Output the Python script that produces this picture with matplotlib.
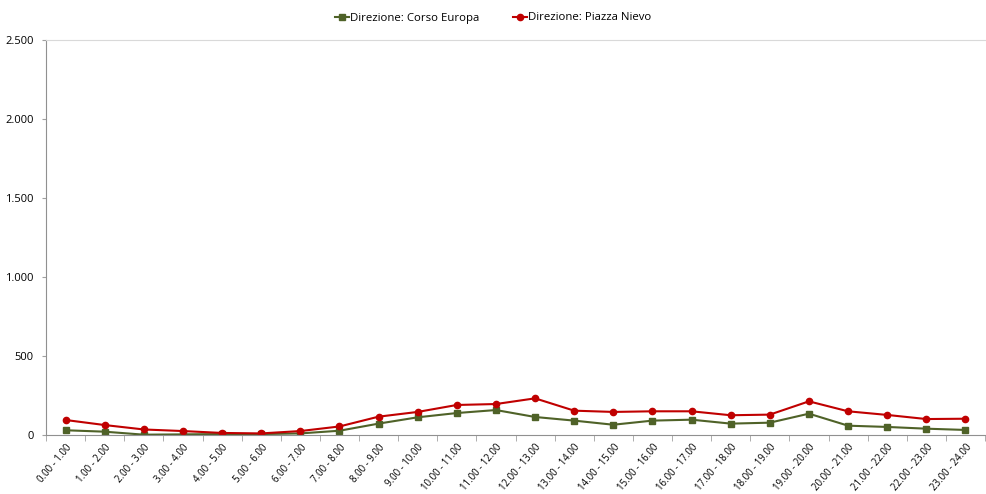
import numpy as np
import matplotlib.pyplot as plt

fasce = [f"{h}.00 - {h + 1}.00" for h in range(24)]
corso_europa = [30, 21, 2, 4, 6, 6, 10, 27, 72, 112, 139, 158, 114, 91, 65, 91,
                97, 72, 78, 135, 59, 51, 40, 32]
piazza_nievo = [95, 63, 35, 25, 13, 10, 25, 54, 116, 146, 190, 196, 232, 154, 146, 150,
                150, 125, 129, 213, 150, 127, 101, 103]

plt.rcParams['font.family'] = ['Open Sans', 'DejaVu Sans']

fig = plt.figure(figsize=(9.86, 4.94), dpi=100)
ax = fig.add_axes([46 / 986, 1 - 435 / 494, 939 / 986, 395 / 494])

x = np.arange(len(fasce))
ax.plot(x, corso_europa, color='#4F6228', lw=1.5, marker='s', ms=4.5,
        label='Direzione: Corso Europa')
ax.plot(x, piazza_nievo, color='#C00000', lw=1.5, marker='o', ms=4.5,
        label='Direzione: Piazza Nievo')

ax.set_xlim(-0.5, len(fasce) - 0.5)
ax.set_ylim(0, 2500)
ax.set_yticks([0, 500, 1000, 1500, 2000, 2500])
ax.set_yticklabels(['0', '500', '1.000', '1.500', '2.000', '2.500'], fontsize=8)

ax.set_xticks(x)
ax.set_xticklabels(fasce, rotation=50, ha='right', rotation_mode='anchor', fontsize=6.9)
ax.set_xticks(np.arange(-0.5, len(fasce)), minor=True)
ax.tick_params(axis='x', which='major', length=0, pad=5)
ax.tick_params(axis='x', which='minor', length=4, color='#A0A0A0', direction='out')
ax.tick_params(axis='y', length=3, color='#A0A0A0', pad=6)

for side in ['left', 'bottom']:
    ax.spines[side].set_color('#909090')
ax.spines['right'].set_visible(False)
ax.spines['top'].set_color('#D9D9D9')

fig.legend(loc='center', bbox_to_anchor=(0.5, 1 - 18 / 494), ncol=2, frameon=False,
           fontsize=8.2, handlelength=1.2, handletextpad=0.1, columnspacing=3)

fig.savefig('out.png', dpi=100)
